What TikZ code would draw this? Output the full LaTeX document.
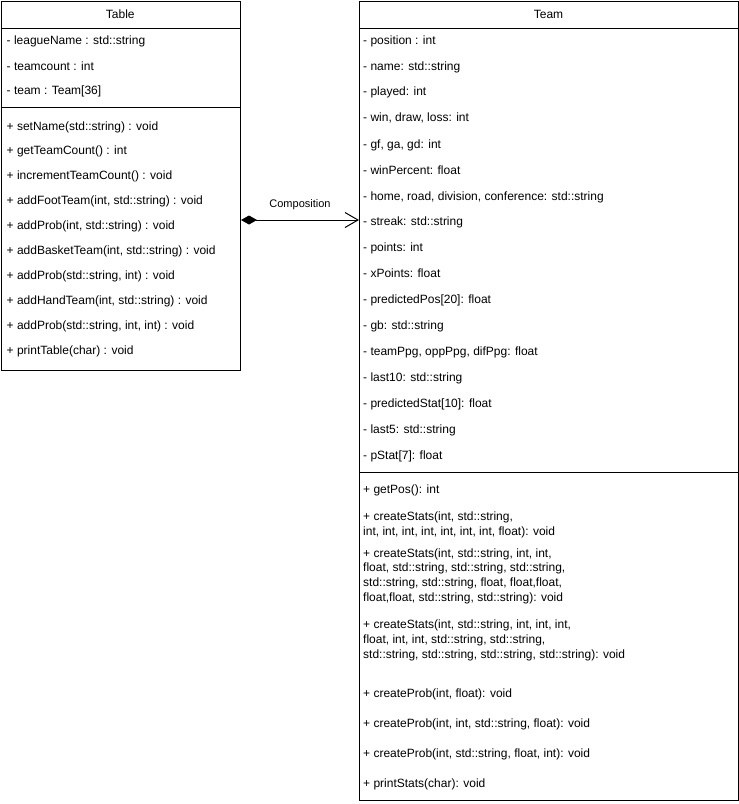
\documentclass[tikz,border=0pt]{standalone}
\usepackage{fontspec}
\setmainfont{Liberation Sans}
\usepackage{tikz}
\usetikzlibrary{arrows.meta}
\tikzstyle{classbox} = [draw, line width=1pt, inner sep=0pt, anchor=north west]
\tikzstyle{member} = [anchor=base west, inner sep=0pt, align=left, font=\fontsize{12}{14.9}\selectfont]
\tikzstyle{classname} = [inner sep=0pt, font=\fontsize{12}{14.4}\selectfont]
\tikzstyle{composition} = [line width=1pt, {Diamond[length=16pt,width=9pt]}-{Straight Barb[length=13pt,width=15pt]}]

\begin{document}
\begin{tikzpicture}[x=1pt,y=-1pt]
			\useasboundingbox (0,0) rectangle (739,804);
			\node[classbox, minimum width=239.5pt, minimum height=369.5pt] (table) at (0.5,0.5) {};
			\node[classbox, minimum width=379pt, minimum height=799.5pt] (team) at (359,0.5) {};
			\node[classname] (tablename) at (120.25,14) {Table};
			\node[classname] (teamname) at (548.5,14) {Team};
			\draw[line width=1pt] (table.west |- 0,28) -- (table.east |- 0,28);
			\draw[line width=1pt] (table.west |- 0,107) -- (table.east |- 0,107);
			\draw[line width=1pt] (team.west |- 0,28) -- (team.east |- 0,28);
			\draw[line width=1pt] (team.west |- 0,472) -- (team.east |- 0,472);
			\foreach \y/\txt [count=\i] in {44.5/{- leagueName : std::string}, 70/{- teamcount : int}, 94.5/{- team : Team[36]}}
				\node[member] (tableattr\i) at (6.5,\y) {\txt};
			\foreach \txt [count=\i] in {{+ setName(std::string) : void}, {+ getTeamCount() : int}, {+ incrementTeamCount() : void}, {+ addFootTeam(int, std::string) : void}, {+ addProb(int, std::string) : void}, {+ addBasketTeam(int, std::string) : void}, {+ addProb(std::string, int) : void}, {+ addHandTeam(int, std::string) : void}, {+ addProb(std::string, int, int) : void}, {+ printTable(char) : void}}
				\node[member] (tableop\i) at (6.5,{105.1+24.9*\i}) {\txt};
			\foreach \y/\txt [count=\i] in {44.5/{- position : int}, 70/{- name: std::string}, 95.5/{- played: int}, 121.5/{- win, draw, loss: int}, 148/{- gf, ga, gd: int}, 174/{- winPercent: float}, 200/{- home, road, division, conference: std::string}, 225.5/{- streak: std::string}, 251/{- points: int}, 277/{- xPoints: float}, 303/{- predictedPos[20]: float}, 329/{- gb: std::string}, 355/{- teamPpg, oppPpg, difPpg: float}, 381/{- last10: std::string}, 407/{- predictedStat[10]: float}, 433/{- last5: std::string}, 459/{- pStat[7]: float}}
				\node[member] (teamattr\i) at (363,\y) {\txt};
			\foreach \y/\txt [count=\i] in {493.5/{+ getPos(): int}, 535/{+ createStats(int, std::string,\\int, int, int, int, int, int, int, float): void}, 601.7/{+ createStats(int, std::string, int, int,\\float, std::string, std::string, std::string,\\std::string, std::string, float, float,float,\\float,float, std::string, std::string): void}, 658.3/{+ createStats(int, std::string, int, int, int,\\float, int, int, std::string, std::string,\\std::string, std::string, std::string, std::string): void}, 697/{+ createProb(int, float): void}, 727/{+ createProb(int, int, std::string, float): void}, 757/{+ createProb(int, std::string, float, int): void}, 787/{+ printStats(char): void}}
				\node[member] (teamop\i) at (363,\y) {\txt};
			\coordinate (link) at (0,220);
			\draw[composition] (table.east |- link) -- node[above=9.5pt, inner sep=0pt, font=\fontsize{11}{13}\selectfont] (complabel) {Composition} (team.west |- link);
		\end{tikzpicture}
\end{document}
